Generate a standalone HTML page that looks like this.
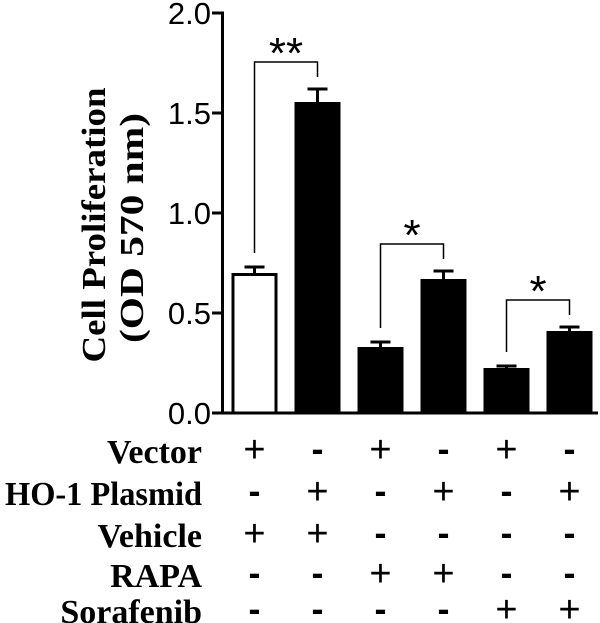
<!DOCTYPE html>
<html><head><meta charset="utf-8"><style>
html,body{margin:0;padding:0;background:#fff;}
svg{display:block;}
</style></head><body>
<svg id="chart" width="600" height="623" viewBox="0 0 600 623" xmlns="http://www.w3.org/2000/svg">
<g id="axis"></g>
<g id="bars"></g>
<g id="sig"></g>
<g id="table"></g>
<text transform="translate(105,225) rotate(-90)" text-anchor="middle" font-family="Liberation Serif, serif" font-weight="bold" font-size="34" textLength="275" lengthAdjust="spacingAndGlyphs">Cell Proliferation</text>
<text transform="translate(143,228) rotate(-90)" text-anchor="middle" font-family="Liberation Serif, serif" font-weight="bold" font-size="34" textLength="230" lengthAdjust="spacingAndGlyphs">(OD 570 nm)</text>
</svg>
<script>
const values = [0.70, 1.555, 0.33, 0.67, 0.225, 0.41];
const errors = [0.03, 0.065, 0.025, 0.04, 0.01, 0.02];
const fills = ['white','black','black','black','black','black'];
const yTicks = [0, 0.5, 1.0, 1.5, 2.0];
const yTickLabels = ['0.0','0.5','1.0','1.5','2.0'];
const rowLabels = ['Vector','HO-1 Plasmid','Vehicle','RAPA','Sorafenib'];
const rowMarks = [
  ['+','-','+','-','+','-'],
  ['-','+','-','+','-','+'],
  ['+','+','-','-','-','-'],
  ['-','-','+','+','-','-'],
  ['-','-','-','-','+','+']
];
const sigPairs = [[0,1],[2,3],[4,5]];
const sigLabels = ['**','*','*'];

const NS='http://www.w3.org/2000/svg';
function y(v){return 413 - v*200;}
function xc(i){return 254.5 + i*63;}
function mk(tag,attrs,parent,txt){const e=document.createElementNS(NS,tag);for(const k in attrs)e.setAttribute(k,attrs[k]);if(txt!==undefined)e.textContent=txt;parent.appendChild(e);return e;}

const ax=document.getElementById('axis');
let l=mk('line',{x1:222.5,y1:y(2)-1.5,x2:222.5,y2:y(0)+1.5,stroke:'#000','stroke-width':3},ax);


l=mk('line',{x1:221,y1:y(0),x2:598,y2:y(0),stroke:'#000','stroke-width':3},ax);


yTicks.forEach((t,i)=>{
  let tk=mk('line',{x1:212,y1:y(t),x2:222,y2:y(t),stroke:'#000','stroke-width':3},ax);
  
  
  let tx=mk('text',{x:211,y:y(t)+11,'text-anchor':'end','font-family':'Liberation Sans, sans-serif','font-size':31},ax,yTickLabels[i]);
  
  
});

const bg=document.getElementById('bars');
values.forEach((v,i)=>{
  const cx=xc(i), w=46;
  let eb=mk('line',{x1:cx,y1:y(v),x2:cx,y2:y(v+errors[i]),stroke:'#000','stroke-width':3},bg);
  
  
  let cap=mk('line',{x1:cx-10,y1:y(v+errors[i]),x2:cx+10,y2:y(v+errors[i]),stroke:'#000','stroke-width':3},bg);
  
  
  let r=mk('rect',{x:cx-w/2+1.5,y:y(v)+1.5,width:w-3,height:y(0)-y(v)-1.5,fill:fills[i],stroke:'#000','stroke-width':3},bg);
  
  
});

const sg=document.getElementById('sig');
sigPairs.forEach((p,k)=>{
  const a=p[0],b=p[1];
  const top=Math.max(values[a]+errors[a],values[b]+errors[b]);
  const by=y(top)-27;
  const pl=mk('polyline',{points:`${xc(a)},${y(values[a]+errors[a])-14} ${xc(a)},${by} ${xc(b)},${by} ${xc(b)},${y(values[b]+errors[b])-12}`,fill:'none',stroke:'#000','stroke-width':1.5},sg);
  
  
  const st=mk('text',{x:(xc(a)+xc(b))/2,y:by+6,'text-anchor':'middle','font-family':'Liberation Sans, sans-serif','font-size':44},sg,sigLabels[k]);
  
  
});

const tb=document.getElementById('table');
const rowBase=[463,505,547,587,623];
rowLabels.forEach((lab,r)=>{
  const attrs={x:202,y:rowBase[r],'text-anchor':'end','font-family':'Liberation Serif, serif','font-weight':'bold','font-size':34};
  if(lab.length>10){attrs.textLength=197;attrs.lengthAdjust='spacingAndGlyphs';}
  let t=mk('text',attrs,tb,lab);
  
  
  rowMarks[r].forEach((m,i)=>{
    let s=mk('text',{x:xc(i),y:rowBase[r]-(m==='-'?2:1),'text-anchor':'middle','font-family':'Liberation Sans, sans-serif','font-size':m==='-'?36:38,'font-weight':m==='-'?'bold':'normal'},tb,m);
    
    
  });
});
</script>
</body></html>
